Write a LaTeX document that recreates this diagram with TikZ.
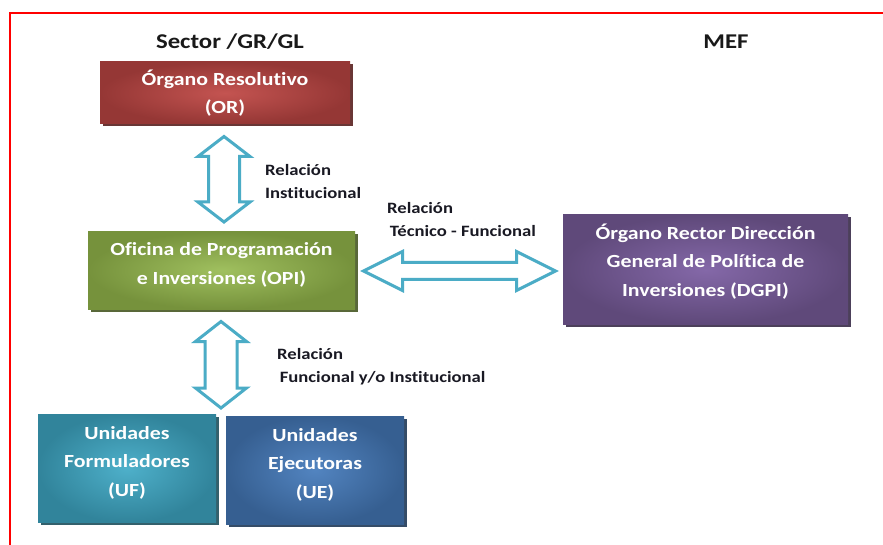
\documentclass[tikz,border=0pt]{standalone}
\usepackage{fontspec}
\setmainfont{Carlito}[FakeStretch=1.18, Ligatures={NoCommon,NoRare}]
\usetikzlibrary{shadows}
\definecolor{arrowblue}{RGB}{75,172,198}
\definecolor{ORout}{RGB}{149,55,53}\definecolor{ORin}{RGB}{196,84,81}
\definecolor{OPIout}{RGB}{118,146,60}\definecolor{OPIin}{RGB}{160,192,95}
\definecolor{DGout}{RGB}{95,73,122}\definecolor{DGin}{RGB}{132,104,168}
\definecolor{UFout}{RGB}{49,132,155}\definecolor{UFin}{RGB}{78,176,202}
\definecolor{UEout}{RGB}{54,95,145}\definecolor{UEin}{RGB}{82,132,192}
\definecolor{labeltext}{RGB}{25,25,35}
\newcommand\vblock[6]{%
  \draw[blockarrow] (#1,#2) -- ({#1+#4},{#2+#6}) -- ({#1+#5},{#2+#6}) -- ({#1+#5},{#3-#6})
   -- ({#1+#4},{#3-#6}) -- (#1,#3) -- ({#1-#4},{#3-#6}) -- ({#1-#5},{#3-#6})
   -- ({#1-#5},{#2+#6}) -- ({#1-#4},{#2+#6}) -- cycle;}
\newcommand\hblock[6]{%
  \draw[blockarrow] (#2,#1) -- ({#2+#6},{#1-#4}) -- ({#2+#6},{#1-#5}) -- ({#3-#6},{#1-#5})
   -- ({#3-#6},{#1-#4}) -- (#3,#1) -- ({#3-#6},{#1+#4}) -- ({#3-#6},{#1+#5})
   -- ({#2+#6},{#1+#5}) -- ({#2+#6},{#1+#4}) -- cycle;}
\begin{document}
\begin{tikzpicture}[x=1pt,y=-1pt,
  orgbox/.style 2 args={rectangle, inner color=#2, outer color=#1,
     drop shadow={shadow xshift=2.5pt, shadow yshift=-2.5pt, fill=#1!60!black, opacity=0.9}},
  boxtext/.style={text=white, align=center, inner sep=0pt,
     font=\fontsize{18.5}{28.5}\selectfont\bfseries},
  blockarrow/.style={draw=arrowblue, fill=white, line width=3pt, line join=miter},
  lbl/.style={anchor=west, align=left, text=labeltext, inner sep=0pt,
     font=\fontsize{15.8}{23}\selectfont\bfseries},
  ttl/.style={text=black!90, inner sep=0pt, font=\fontsize{21}{25}\selectfont\bfseries}]
\useasboundingbox (0,0) rectangle (883,545);
\fill[white] (0,0) rectangle (883,545);
\draw[red, line width=2pt] (9.5,545) -- (9.5,12.7) -- (884,12.7);

\node[ttl] (sector) at (230,42) {Sector /GR/GL};
\node[ttl] (mef) at (726,42) {MEF};

\node[orgbox={ORout}{ORin}, minimum width=250, minimum height=62] (or) at (225,93) {};
\node[orgbox={OPIout}{OPIin}, minimum width=267, minimum height=77] (opi) at (221.5,270.5) {};
\node[orgbox={DGout}{DGin}, minimum width=285, minimum height=109] (dgpi) at (705.5,269.5) {};
\node[orgbox={UFout}{UFin}, minimum width=178, minimum height=108] (uf) at (127,468) {};
\node[orgbox={UEout}{UEin}, minimum width=178, minimum height=108] (ue) at (315,470) {};

\node[boxtext] (or-t) at ([yshift=0pt]or.center) {Órgano Resolutivo\\(OR)};
\node[boxtext] (opi-t) at ([yshift=5.5pt]opi.center) {Oficina de Programación\\e Inversiones (OPI)};
\node[boxtext] (dgpi-t) at ([yshift=8pt]dgpi.center) {Órgano Rector Dirección\\General de Política de\\Inversiones (DGPI)};
\node[boxtext] (uf-t) at ([yshift=5.5pt]uf.center) {Unidades\\Formuladores\\(UF)};
\node[boxtext] (ue-t) at ([yshift=5.5pt]ue.center) {Unidades\\Ejecutoras\\(UE)};

\vblock{224}{136.5}{222}{26}{15.5}{20}
\vblock{221}{321.5}{408}{25.5}{16}{20}
\hblock{271}{363.5}{555.5}{19.5}{8.5}{39}

\node[lbl] (l1) at (265,181.5) {Relación\\Institucional};
\node[lbl] (l2) at (387,220) {Relación\\\,Técnico - Funcional};
\node[lbl] (l3) at (277,367) {Relación\\\,Funcional y/o Institucional};
\end{tikzpicture}
\end{document}
